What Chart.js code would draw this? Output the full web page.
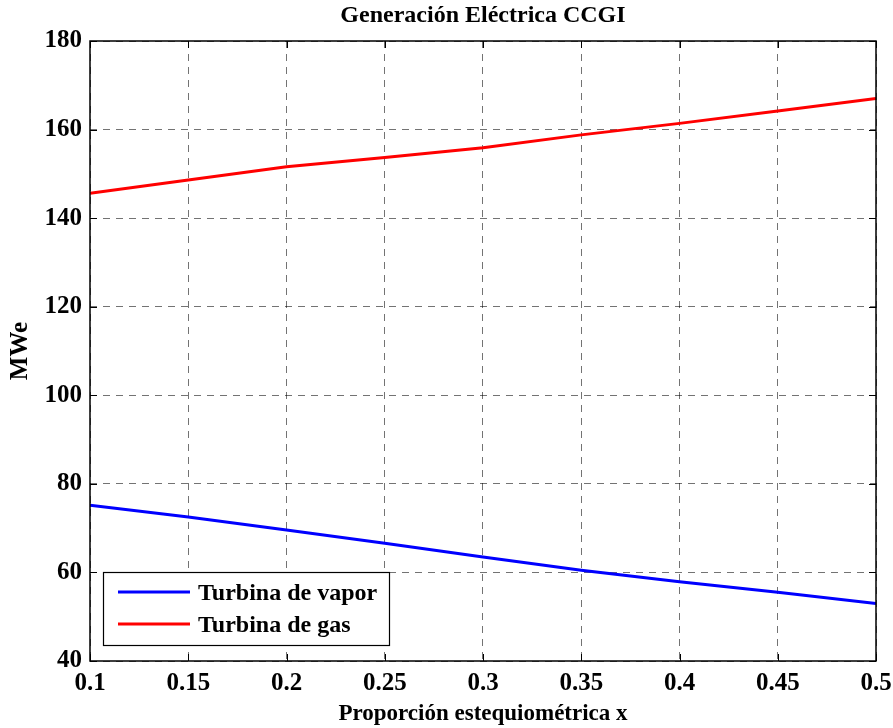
<!DOCTYPE html>
<html>
<head>
<meta charset="utf-8">
<script src="https://cdn.jsdelivr.net/npm/chart.js@4.4.1/dist/chart.umd.min.js"></script>
<style>
  html, body { margin: 0; padding: 0; background: #fff; }
  #wrap { width: 893px; height: 728px; }
</style>
</head>
<body>
<div id="wrap"><canvas id="myChart" width="893" height="728"></canvas></div>
<script>
// datos
var proporcion = [0.1, 0.15, 0.2, 0.25, 0.3, 0.35, 0.4, 0.45, 0.5];
var turbinaVapor = [75.2, 72.5, 69.6, 66.6, 63.5, 60.5, 57.9, 55.5, 53.0];
var turbinaGas = [145.6, 148.6, 151.6, 153.7, 155.9, 158.8, 161.4, 164.2, 167.0];
var titulo = 'Generación Eléctrica CCGI';
var tituloX = 'Proporción estequiométrica x';
var tituloY = 'MWe';

var fuente = '"Liberation Serif", "Times New Roman", serif';

function puntos(lista) {
    var res = [];
    for (var i = 0; i < proporcion.length; i++) {
        res.push({ x: proporcion[i], y: lista[i] });
    }
    return res;
}

// caja del grafico, ticks internos, titulo y leyenda dentro del area
var extras = {
    id: 'extras',
    afterDraw: function (chart) {
        var ctx = chart.ctx;
        var a = chart.chartArea;
        var sx = chart.scales.x, sy = chart.scales.y;
        ctx.save();
        ctx.strokeStyle = '#000';
        ctx.lineWidth = 1.5;
        ctx.setLineDash([]);
        ctx.strokeRect(a.left, a.top, a.right - a.left, a.bottom - a.top);

        // ticks hacia dentro
        ctx.lineWidth = 1;
        sx.ticks.forEach(function (t) {
            var px = Math.round(sx.getPixelForValue(t.value)) + 0.5;
            ctx.beginPath();
            ctx.moveTo(px, a.bottom); ctx.lineTo(px, a.bottom - 7);
            ctx.moveTo(px, a.top); ctx.lineTo(px, a.top + 7);
            ctx.stroke();
        });
        sy.ticks.forEach(function (t) {
            var py = Math.round(sy.getPixelForValue(t.value)) + 0.5;
            ctx.beginPath();
            ctx.moveTo(a.left, py); ctx.lineTo(a.left + 7, py);
            ctx.moveTo(a.right, py); ctx.lineTo(a.right - 7, py);
            ctx.stroke();
        });

        // titulo
        ctx.fillStyle = '#000';
        ctx.font = 'bold 24px ' + fuente;
        ctx.textAlign = 'center';
        ctx.textBaseline = 'middle';
        ctx.fillText(titulo, (a.left + a.right) / 2, 16);

        // leyenda abajo a la izquierda
        var lx = a.left + 13, ly = a.bottom - 89, lw = 286, lh = 73;
        ctx.fillStyle = '#fff';
        ctx.fillRect(lx, ly, lw, lh);
        ctx.strokeStyle = '#000';
        ctx.lineWidth = 1.2;
        ctx.strokeRect(lx + 0.5, ly + 0.5, lw, lh);
        ctx.font = 'bold 24px ' + fuente;
        ctx.textAlign = 'left';
        chart.data.datasets.forEach(function (ds, i) {
            var yy = ly + 20 + i * 32;
            ctx.strokeStyle = ds.borderColor;
            ctx.lineWidth = 3;
            ctx.beginPath();
            ctx.moveTo(lx + 15, yy); ctx.lineTo(lx + 87, yy);
            ctx.stroke();
            ctx.fillStyle = '#000';
            ctx.fillText(ds.label, lx + 95, yy + 2);
        });
        ctx.restore();
    }
};

var ctx = document.getElementById('myChart');
var Grafico = new Chart(ctx, {
    type: 'line',
    data: {
        datasets: [{
            label: 'Turbina de vapor',
            data: puntos(turbinaVapor),
            borderColor: '#0000ff',
            borderWidth: 3,
            pointRadius: 0,
            fill: false
        },
        {
            label: 'Turbina de gas',
            data: puntos(turbinaGas),
            borderColor: '#ff0000',
            borderWidth: 3,
            pointRadius: 0,
            fill: false
        }]
    },
    options: {
        responsive: false,
        animation: false,
        layout: { padding: { left: 0, right: 17, top: 41, bottom: 0 } },
        plugins: {
            legend: { display: false },
            title: { display: false },
            tooltip: { enabled: false }
        },
        scales: {
            x: {
                type: 'linear',
                min: 0.1,
                max: 0.5,
                ticks: {
                    stepSize: 0.05,
                    color: '#000',
                    padding: 8,
                    font: { family: fuente, size: 25, weight: 'bold' },
                    callback: function (v) { return String(+v.toFixed(2)); }
                },
                grid: {
                    color: 'rgba(0,0,0,0.55)',
                    lineWidth: 1,
                    drawTicks: false
                },
                border: { display: false, dash: [7, 6] },
                title: {
                    display: true,
                    text: tituloX,
                    color: '#000',
                    font: { family: fuente, size: 23, weight: 'bold' },
                    padding: { top: 0, bottom: 0 }
                },
                afterFit: function (scale) {
                    scale.height = 67;
                    scale.paddingLeft = 0;
                    scale.paddingRight = 0;
                }
            },
            y: {
                min: 40,
                max: 180,
                ticks: {
                    stepSize: 20,
                    color: '#000',
                    padding: 8,
                    font: { family: fuente, size: 25, weight: 'bold' }
                },
                grid: {
                    color: 'rgba(0,0,0,0.55)',
                    lineWidth: 1,
                    drawTicks: false
                },
                border: { display: false, dash: [7, 6] },
                title: {
                    display: true,
                    text: tituloY,
                    color: '#000',
                    font: { family: fuente, size: 25, weight: 'bold' },
                    padding: { top: 6, bottom: 0 }
                },
                afterFit: function (scale) {
                    scale.width = 90;
                    scale.paddingTop = 0;
                    scale.paddingBottom = 0;
                }
            }
        }
    },
    plugins: [extras]
});
</script>
</body>
</html>
